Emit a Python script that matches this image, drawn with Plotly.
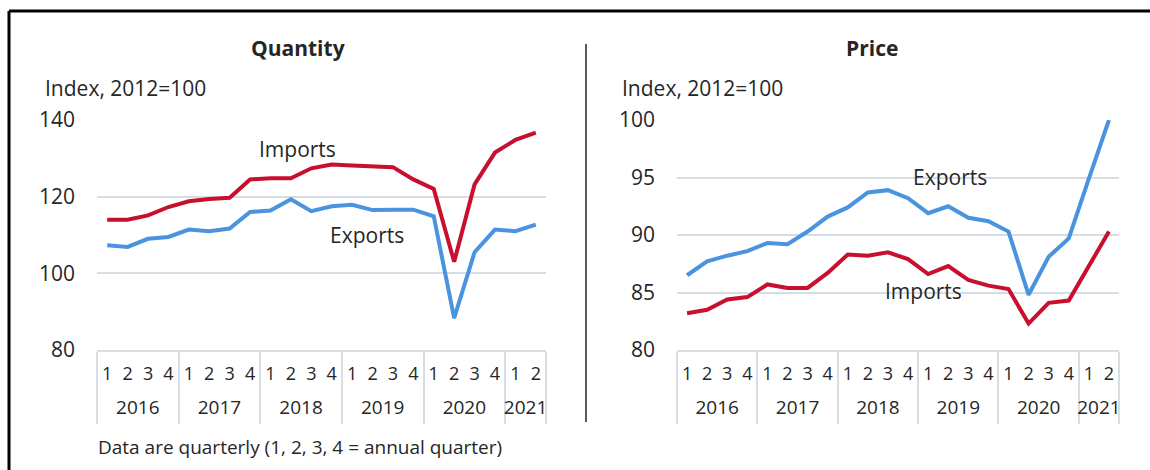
import plotly.graph_objects as go

W, H = 1150, 470

years = ["2016", "2017", "2018", "2019", "2020", "2021"]
quarters_per_year = [4, 4, 4, 4, 4, 2]
quarter_labels = [str(q + 1) for n in quarters_per_year for q in range(n)]

qty_imports = [114.0, 114.0, 115.1, 117.3, 118.8, 119.4, 119.7, 124.5, 124.8, 124.8, 127.4,
               128.4, 128.1, 128.0, 127.7, 124.5, 122.0, 103.0, 123.2, 131.5, 134.8, 136.7]
qty_exports = [107.3, 106.9, 109.0, 109.5, 111.4, 111.0, 111.7, 116.0, 116.4, 119.3, 116.2,
               117.5, 117.9, 116.5, 116.6, 116.6, 114.9, 88.3, 105.5, 111.4, 111.0, 112.7]
price_exports = [86.5, 87.7, 88.2, 88.6, 89.3, 89.2, 90.3, 91.6, 92.4, 93.7, 93.9,
                 93.2, 91.9, 92.5, 91.5, 91.2, 90.3, 84.8, 88.1, 89.7, 94.9, 100.0]
price_imports = [83.2, 83.5, 84.4, 84.6, 85.7, 85.4, 85.4, 86.7, 88.3, 88.2, 88.5,
                 87.9, 86.6, 87.3, 86.1, 85.6, 85.3, 82.3, 84.1, 84.3, 87.3, 90.3]

# category positions on the axis (index of each quarter), year group bounds and centres
pos = list(range(len(quarter_labels)))
bounds = [-0.5]
for n in quarters_per_year:
    bounds.append(bounds[-1] + n)
year_centres = [(a + b) / 2 for a, b in zip(bounds[:-1], bounds[1:])]

RED = "#C8102E"
BLUE = "#4A93DF"
GRID = "#D5DEE7"
TXT = "#262626"
FONT = "Open Sans, sans-serif"
XR = [-0.5, len(pos) - 0.5]

fig = go.Figure()
fig.add_trace(go.Scatter(x=pos, y=qty_imports, mode="lines", line=dict(color=RED, width=4),
                         xaxis="x", yaxis="y", showlegend=False))
fig.add_trace(go.Scatter(x=pos, y=qty_exports, mode="lines", line=dict(color=BLUE, width=4),
                         xaxis="x", yaxis="y", showlegend=False))
fig.add_trace(go.Scatter(x=pos, y=price_exports, mode="lines", line=dict(color=BLUE, width=4),
                         xaxis="x2", yaxis="y2", showlegend=False))
fig.add_trace(go.Scatter(x=pos, y=price_imports, mode="lines", line=dict(color=RED, width=4),
                         xaxis="x2", yaxis="y2", showlegend=False))
# empty traces so the year-level axes get drawn
fig.add_trace(go.Scatter(x=year_centres, y=[None] * len(years), mode="lines",
                         xaxis="x3", yaxis="y", showlegend=False, hoverinfo="skip"))
fig.add_trace(go.Scatter(x=year_centres, y=[None] * len(years), mode="lines",
                         xaxis="x4", yaxis="y2", showlegend=False, hoverinfo="skip"))

def qaxis(domain, anchor):
    return dict(domain=domain, anchor=anchor, range=XR, showgrid=False, zeroline=False,
                showline=True, linecolor=GRID, linewidth=2,
                tickmode="array", tickvals=pos, ticktext=quarter_labels, ticks="",
                ticklabelstandoff=6,
                tickfont=dict(family=FONT, size=18, color=TXT),
                minor=dict(tickmode="array", tickvals=bounds, ticks="outside", ticklen=72,
                           tickwidth=2, tickcolor=GRID, showgrid=False),
                automargin=False, fixedrange=True)

def year_axis(overlay, anchor):
    return dict(overlaying=overlay, anchor=anchor, side="bottom", range=XR, showgrid=False,
                zeroline=False, showline=False, tickmode="array", tickvals=year_centres,
                ticktext=years, ticks="", ticklabelstandoff=44,
                tickfont=dict(family=FONT, size=19, color=TXT),
                automargin=False, fixedrange=True)

ycommon = dict(showgrid=True, gridcolor=GRID, gridwidth=2, zeroline=False, showline=False,
               ticks="", ticklabelstandoff=21,
               tickfont=dict(family=FONT, size=21, color=TXT), automargin=False, fixedrange=True)

yd = [1 - 350 / H, 1 - 120 / H]
fig.update_layout(
    width=W, height=H,
    margin=dict(l=0, r=0, t=0, b=0),
    paper_bgcolor="white", plot_bgcolor="white",
    xaxis=qaxis([97 / W, 546 / W], "y"),
    xaxis2=qaxis([677 / W, 1119 / W], "y2"),
    xaxis3=year_axis("x", "y"),
    xaxis4=year_axis("x2", "y2"),
    yaxis=dict(domain=yd, anchor="x", range=[80, 140], tickvals=[80, 100, 120, 140], **ycommon),
    yaxis2=dict(domain=yd, anchor="x2", range=[80, 100], tickvals=[80, 85, 90, 95, 100], **ycommon),
)

ann = []
def txt(xp, yp, s, size=21, bold=False, xanchor="center", yref="paper"):
    ann.append(dict(x=xp, y=yp, xref="paper", yref=yref, text=f"<b>{s}</b>" if bold else s,
                    showarrow=False, xanchor=xanchor, yanchor="middle",
                    font=dict(family=FONT, size=size, color=TXT)))

txt(298 / W, 1 - 48 / H, "Quantity", size=21, bold=True)
txt(872 / W, 1 - 48 / H, "Price", size=21, bold=True)
txt(43 / W, 1 - 88 / H, "Index, 2012=100", xanchor="left")
txt(620 / W, 1 - 88 / H, "Index, 2012=100", xanchor="left")
txt(297 / W, 132.5, "Imports", yref="y")
txt(367 / W, 110.1, "Exports", yref="y")
txt(950 / W, 95.0, "Exports", yref="y2")
txt(923 / W, 85.1, "Imports", yref="y2")
txt(96 / W, 1 - 447 / H, "Data are quarterly (1, 2, 3, 4 = annual quarter)", size=19, xanchor="left")
fig.update_layout(annotations=ann)

shapes = [
    dict(type="line", xref="paper", yref="paper", x0=9 / W, x1=1, y0=1 - 11 / H, y1=1 - 11 / H,
         line=dict(color="black", width=3)),
    dict(type="line", xref="paper", yref="paper", x0=9 / W, x1=9 / W, y0=0, y1=1 - 11 / H,
         line=dict(color="black", width=3)),
    dict(type="line", xref="paper", yref="paper", x0=586 / W, x1=586 / W, y0=1 - 422 / H, y1=1 - 44 / H,
         line=dict(color="#595959", width=2)),
]
fig.update_layout(shapes=shapes)

fig.write_html("out.html", config={"displayModeBar": False},
               post_script="document.body.style.margin='0px';")
